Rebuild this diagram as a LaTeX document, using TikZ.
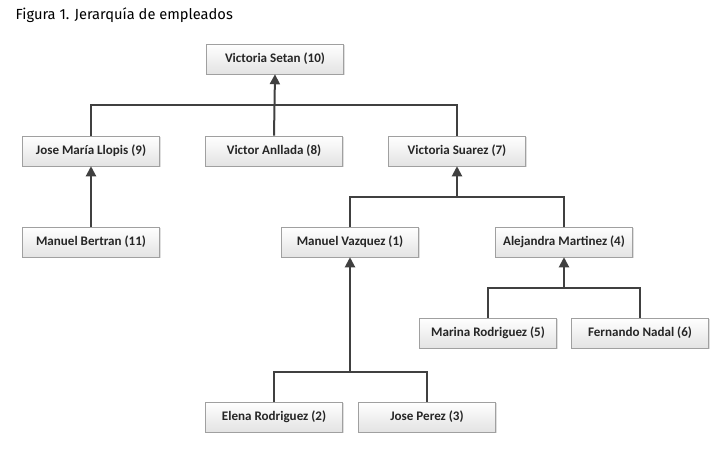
\documentclass[tikz,border=0pt]{standalone}
\usepackage{fontspec}
\setmainfont{Carlito}
\newfontfamily\titlefont{Fira Sans}
\usetikzlibrary{arrows.meta,shadows}
\definecolor{linegray}{HTML}{404040}
\definecolor{boxborder}{HTML}{A0A0A0}
\begin{document}
\begin{tikzpicture}
          [x=0.75pt,y=-0.75pt,
          font=\bfseries\fontsize{9.8}{11}\selectfont,
          emp/.style={shape=rectangle,draw=boxborder,top color=white,bottom color=gray!22,
            text=black!85,minimum width=103pt,minimum height=22.5pt,inner sep=2pt,
            drop shadow={shadow xshift=1pt,shadow yshift=-1pt,opacity=0.25}},
          arc/.style={-{Triangle[length=7.5pt,width=7.5pt]},draw=linegray,line width=1.5pt},
          edge/.style={draw=linegray,line width=1.5pt}]

          \useasboundingbox (0,0) rectangle (726,452);

          \node (title) [anchor=base west,font=\titlefont\fontsize{11}{13}\selectfont] at (11,20) {Figura 1. Jerarquía de empleados};

            \node (10) [emp] at (275,59)  {Victoria Setan (10)};
            \node (9)  [emp] at (91,151)  {Jose María Llopis (9)};
            \node (8)  [emp] at (274,151) {Victor Anllada (8)};
            \node (7)  [emp] at (457,151) {Victoria Suarez (7)};
            \node (11) [emp] at (91,242)  {Manuel Bertran (11)};
            \node (1)  [emp] at (350,242) {Manuel Vazquez (1)};
            \node (4)  [emp] at (564,242) {Alejandra Martinez (4)};
            \node (5)  [emp] at (488,333) {Marina Rodriguez (5)};
            \node (6)  [emp] at (640,333) {Fernando Nadal (6)};
            \node (2)  [emp] at (274,417) {Elena Rodriguez (2)};
            \node (3)  [emp] at (427,417) {Jose Perez (3)};

          \coordinate (B10) at (0,105);
          \coordinate (B7) at (0,197);
          \coordinate (B4) at (0,288);
          \coordinate (B1) at (0,372);

          % level 1
          \draw [edge] (9.north) |- (B10 -| 7.north) -- (7.north);
            \draw [arc] (8.north) -- (10.south);
          % level 2
            \draw [arc] (11.north) -- (9.south);
          \draw [edge] (1.north) |- (B7 -| 4.north) -- (4.north);
            \draw [arc] (B7 -| 7.south) -- (7.south);
          % level 3
          \draw [edge] (5.north) |- (B4 -| 6.north) -- (6.north);
            \draw [arc] (B4 -| 4.south) -- (4.south);
          \draw [edge] (2.north) |- (B1 -| 3.north) -- (3.north);
            \draw [arc] (B1 -| 1.south) -- (1.south);

        \end{tikzpicture}
\end{document}
